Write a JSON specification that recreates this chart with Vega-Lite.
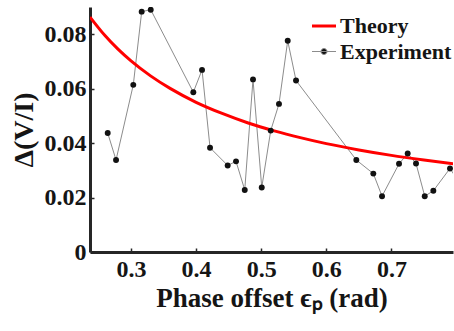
{
  "$schema": "https://vega.github.io/schema/vega-lite/v6.json",
  "width": 363,
  "height": 245,
  "autosize": {"type": "none"},
  "padding": {"left": 90, "top": 7, "right": 1, "bottom": 79},
  "background": "white",
  "config": {
    "view": {"stroke": null},
    "font": "Liberation Serif",
    "axis": {
      "domainColor": "#262626",
      "domainWidth": 3,
      "tickColor": "#262626",
      "tickWidth": 1.5,
      "tickSize": -4,
      "grid": false,
      "labelFont": "Liberation Serif",
      "labelFontWeight": "bold",
      "labelFontSize": 24,
      "labelColor": "#151515",
      "titleFont": "Liberation Serif",
      "titleFontWeight": "bold",
      "titleFontSize": 27,
      "titleColor": "#151515"
    }
  },
  "data": {
    "values": [
      {"series": "Theory", "x": 0.237, "y": 0.0863},
      {"series": "Theory", "x": 0.26, "y": 0.0795},
      {"series": "Theory", "x": 0.28, "y": 0.0745},
      {"series": "Theory", "x": 0.30, "y": 0.0702},
      {"series": "Theory", "x": 0.33, "y": 0.0647},
      {"series": "Theory", "x": 0.36, "y": 0.0601},
      {"series": "Theory", "x": 0.40, "y": 0.0550},
      {"series": "Theory", "x": 0.44, "y": 0.0509},
      {"series": "Theory", "x": 0.48, "y": 0.0474},
      {"series": "Theory", "x": 0.52, "y": 0.0445},
      {"series": "Theory", "x": 0.56, "y": 0.0420},
      {"series": "Theory", "x": 0.60, "y": 0.0398},
      {"series": "Theory", "x": 0.65, "y": 0.0375},
      {"series": "Theory", "x": 0.70, "y": 0.0355},
      {"series": "Theory", "x": 0.75, "y": 0.0338},
      {"series": "Theory", "x": 0.795, "y": 0.0324},
      {"series": "Experiment", "x": 0.2642, "y": 0.0437},
      {"series": "Experiment", "x": 0.2770, "y": 0.0338},
      {"series": "Experiment", "x": 0.3035, "y": 0.0614},
      {"series": "Experiment", "x": 0.3164, "y": 0.0883},
      {"series": "Experiment", "x": 0.3303, "y": 0.0890},
      {"series": "Experiment", "x": 0.3957, "y": 0.0587},
      {"series": "Experiment", "x": 0.4091, "y": 0.0669},
      {"series": "Experiment", "x": 0.4214, "y": 0.0383},
      {"series": "Experiment", "x": 0.4485, "y": 0.0318},
      {"series": "Experiment", "x": 0.4613, "y": 0.0333},
      {"series": "Experiment", "x": 0.4747, "y": 0.0228},
      {"series": "Experiment", "x": 0.4874, "y": 0.0634},
      {"series": "Experiment", "x": 0.5008, "y": 0.0237},
      {"series": "Experiment", "x": 0.5146, "y": 0.0446},
      {"series": "Experiment", "x": 0.5273, "y": 0.0544},
      {"series": "Experiment", "x": 0.5407, "y": 0.0776},
      {"series": "Experiment", "x": 0.5535, "y": 0.0630},
      {"series": "Experiment", "x": 0.6461, "y": 0.0338},
      {"series": "Experiment", "x": 0.6722, "y": 0.0288},
      {"series": "Experiment", "x": 0.6856, "y": 0.0205},
      {"series": "Experiment", "x": 0.7117, "y": 0.0324},
      {"series": "Experiment", "x": 0.7250, "y": 0.0362},
      {"series": "Experiment", "x": 0.7378, "y": 0.0325},
      {"series": "Experiment", "x": 0.7512, "y": 0.0205},
      {"series": "Experiment", "x": 0.7644, "y": 0.0225},
      {"series": "Experiment", "x": 0.7900, "y": 0.0307},
      {"series": "Experiment", "x": 0.8000, "y": 0.0270}
    ]
  },
  "encoding": {
    "x": {
      "field": "x", "type": "quantitative",
      "scale": {"domain": [0.237, 0.7946], "nice": false, "zero": false},
      "axis": {"values": [0.3, 0.4, 0.5, 0.6, 0.7], "format": ".1f", "title": "Phase offset ϵₚ (rad)", "labelPadding": 9, "titlePadding": 4}
    },
    "y": {
      "field": "y", "type": "quantitative",
      "scale": {"domain": [0, 0.09], "nice": false},
      "axis": {"values": [0, 0.02, 0.04, 0.06, 0.08], "labelExpr": "datum.value === 0 ? '0' : format(datum.value, '.2f')", "title": "Δ(V/I)", "labelPadding": 8, "titlePadding": 6, "titleFontSize": 28}
    }
  },
  "layer": [
    {
      "transform": [{"filter": "datum.series === 'Experiment'"}],
      "mark": {"type": "line", "strokeWidth": 1, "clip": true},
      "encoding": {
        "color": {
          "field": "series", "type": "nominal",
          "scale": {"domain": ["Theory", "Experiment"], "range": ["#ff0000", "#8c8c8c"]},
          "legend": {
            "title": null,
            "orient": "none",
            "legendX": 223,
            "legendY": 8,
            "padding": 0,
            "labelFont": "Liberation Serif",
            "labelFontWeight": "bold",
            "labelFontSize": 22,
            "labelColor": "#151515",
            "labelOffset": 5,
            "rowPadding": 3.5,
            "symbolSize": 576,
            "symbolType": "stroke",
            "encode": {
              "symbols": {
                "update": {
                  "shape": {"signal": "datum.label === 'Experiment' ? 'M-1,0H1M0.25,0A0.25,0.25,0,1,1,-0.25,0A0.25,0.25,0,1,1,0.25,0Z' : 'M-1,0H1'"},
                  "fill": {"signal": "datum.label === 'Experiment' ? '#111111' : 'transparent'"},
                  "strokeWidth": {"signal": "datum.label === 'Experiment' ? 1 : 3"}
                }
              }
            }
          }
        }
      }
    },
    {
      "transform": [{"filter": "datum.series === 'Theory'"}],
      "mark": {"type": "line", "strokeWidth": 3, "interpolate": "monotone", "clip": true},
      "encoding": {
        "color": {"field": "series", "type": "nominal"}
      }
    },
    {
      "transform": [{"filter": "datum.series === 'Experiment'"}],
      "mark": {"type": "point", "filled": true, "color": "#111111", "size": 35, "opacity": 1, "clip": true},
      "encoding": {}
    }
  ]
}
